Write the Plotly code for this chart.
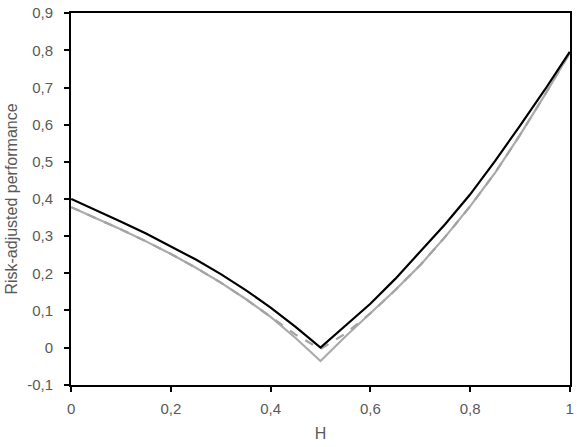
import plotly.graph_objects as go

# Hurst exponent grid
h_values = [0.0, 0.05, 0.1, 0.15, 0.2, 0.25, 0.3, 0.35, 0.4, 0.45, 0.5,
            0.55, 0.6, 0.65, 0.7, 0.75, 0.8, 0.85, 0.9, 0.95, 1.0]

# Series
perf_black = [0.400, 0.370, 0.339, 0.307, 0.273, 0.237, 0.198, 0.155, 0.108, 0.056, 0.000,
              0.058, 0.118, 0.185, 0.258, 0.332, 0.412, 0.502, 0.597, 0.694, 0.796]
perf_gray = [0.378, 0.349, 0.318, 0.286, 0.252, 0.215, 0.175, 0.131, 0.083, 0.026, -0.036,
             0.030, 0.092, 0.155, 0.222, 0.298, 0.380, 0.470, 0.572, 0.680, 0.793]
perf_dashed = [0.378, 0.349, 0.318, 0.286, 0.252, 0.215, 0.175, 0.131, 0.083, 0.035, -0.004,
               0.038, 0.092, 0.155, 0.222, 0.298, 0.380, 0.470, 0.572, 0.680, 0.793]

x_tickvals = [0, 0.2, 0.4, 0.6, 0.8, 1]
x_ticktext = ["0", "0,2", "0,4", "0,6", "0,8", "1"]
y_tickvals = [-0.1, 0, 0.1, 0.2, 0.3, 0.4, 0.5, 0.6, 0.7, 0.8, 0.9]
y_ticktext = ["-0,1", "0", "0,1", "0,2", "0,3", "0,4", "0,5", "0,6", "0,7", "0,8", "0,9"]

fig = go.Figure()

fig.add_trace(go.Scatter(x=h_values, y=perf_gray, mode="lines",
                         line=dict(color="#ABABAB", width=2.2), showlegend=False))
fig.add_trace(go.Scatter(x=h_values, y=perf_dashed, mode="lines",
                         line=dict(color="#A3A3A3", width=2.2, dash="dash"), showlegend=False))
fig.add_trace(go.Scatter(x=h_values, y=perf_black, mode="lines",
                         line=dict(color="#000000", width=2.2), showlegend=False))

tick_font = dict(family="Liberation Sans, Arial, sans-serif", size=15, color="#595959")
title_font = dict(family="Liberation Sans, Arial, sans-serif", size=16, color="#595959")

fig.update_layout(
    width=577,
    height=447,
    margin=dict(l=71, r=7, t=13, b=62),
    plot_bgcolor="white",
    paper_bgcolor="white",
    font=tick_font,
)

axis_style = dict(
    showgrid=False,
    zeroline=False,
    showline=True,
    linecolor="black",
    linewidth=2,
    mirror=True,
    ticks="outside",
    ticklen=5,
    tickwidth=2,
    tickcolor="black",
    tickfont=tick_font,
    ticklabeloverflow="allow",
    automargin=False,
)

fig.update_xaxes(
    range=[-0.0005, 1.0005],
    tickvals=x_tickvals,
    ticktext=x_ticktext,
    ticklabelstandoff=4,
    title=dict(text="H", font=title_font, standoff=12),
    **axis_style,
)
fig.update_yaxes(
    range=[-0.1005, 0.9005],
    tickvals=y_tickvals,
    ticktext=y_ticktext,
    ticklabelstandoff=8,
    title=dict(text="Risk-adjusted performance", font=title_font, standoff=6),
    **axis_style,
)

# drop the default page margin so the figure sits at the window's corner
fig.write_html("out.html", config={"displayModeBar": False},
               post_script="document.body.style.margin='0';")
